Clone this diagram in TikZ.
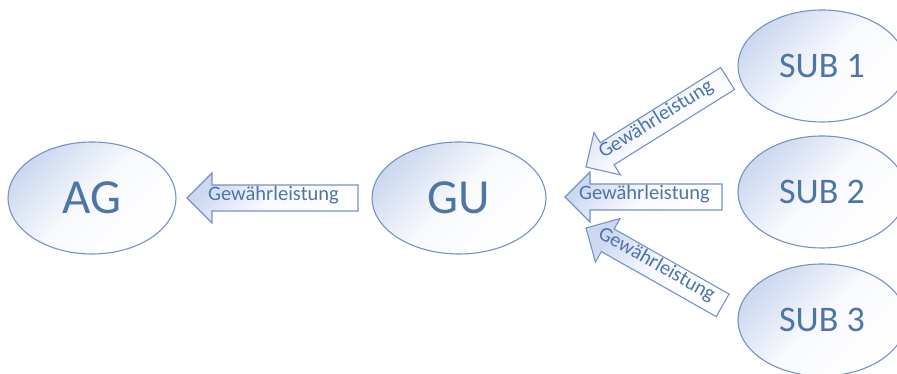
\documentclass[tikz,border=0pt]{standalone}
\usepackage{fontspec}
\setmainfont{Carlito}
\usetikzlibrary{shapes.geometric}

\definecolor{edgeblue}{RGB}{118,146,196}
\definecolor{textblue}{RGB}{79,116,168}
\definecolor{fillblue}{RGB}{204,216,240}

\tikzset{
  party/.style={ellipse, draw=edgeblue, line width=1.1pt, inner sep=0pt,
    minimum width=168pt, minimum height=112pt,
    top color=fillblue, bottom color=white, middle color=white!88!fillblue,
    shading angle=45, text=textblue},
  bigname/.style={font=\fontsize{49}{49}\selectfont},
  subname/.style={font=\fontsize{36}{36}\selectfont},
  arrowbody/.style={draw=edgeblue, line width=1.1pt,
    top color=fillblue, bottom color=white, middle color=white!88!fillblue,
    shading angle=45},
  arrowtext/.style={text=textblue, inner sep=0pt, font=\fontsize{20.5}{20.5}\selectfont,
    text height=0.68em, text depth=0.2em},
  % block arrow pointing to the local origin, tail at distance #1
  pics/garrow/.style={code={
    \path[arrowbody] (0,0) -- (25,25) -- (25,13) -- (#1,13) -- (#1,-13)
      -- (25,-13) -- (25,-25) -- cycle;
    \node[arrowtext, transform shape] at ({#1/2+1},0) {Gewährleistung};
  }}
}

\begin{document}
\begin{tikzpicture}[x=1pt, y=1pt]
  \useasboundingbox (0,0) rectangle (897,374);

  % parties
  \node[party, bigname] (ag) at (92,176) {AG};
  \node[party, bigname, minimum width=174pt] (gu) at (459,176) {GU};
  \node[party, subname] (sub1) at (822,308) {SUB 1};
  \node[party, subname] (sub2) at (822,182) {SUB 2};
  \node[party, subname] (sub3) at (822,54) {SUB 3};

  % warranty arrows
  \pic (w0) at (187,176) {garrow=171};
  \pic (w2) at (565,177) {garrow=157};
  \pic[rotate=32] (w1) at (586,207) {garrow=167};
  \pic[rotate=-29.5] (w3) at (586,146) {garrow=157};
\end{tikzpicture}
\end{document}
